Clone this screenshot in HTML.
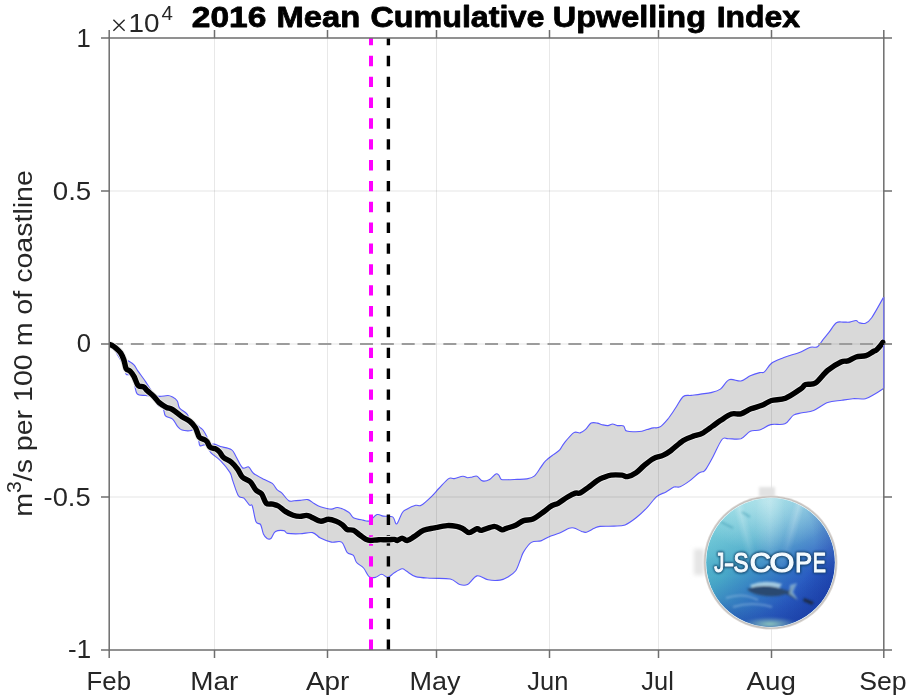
<!DOCTYPE html><html><head><meta charset="utf-8"><style>html,body{margin:0;padding:0;background:#fff;}svg{display:block;will-change:transform;}</style></head><body>
<svg width="911" height="700" viewBox="0 0 911 700">
<rect x="0" y="0" width="911" height="700" fill="#fff"/>
<defs><clipPath id="ax"><rect x="109.2" y="38" width="774.6" height="612"/></clipPath></defs>
<g clip-path="url(#ax)">
<path d="M109.5,343.5 C112.2,346.2 122.2,357.1 125.4,360.0 C128.6,362.9 127.2,360.2 128.6,361.0 C130.0,361.8 132.4,363.2 134.0,364.9 C135.6,366.6 136.0,368.2 138.0,371.1 C140.0,374.0 143.6,378.7 145.9,382.1 C148.2,385.5 150.0,389.2 152.1,391.6 C154.2,394.0 155.8,395.7 158.4,396.3 C161.0,396.9 165.5,395.4 167.9,395.5 C170.3,395.6 171.0,396.2 172.6,397.1 C174.2,398.0 176.1,399.2 177.3,401.0 C178.5,402.8 178.0,406.0 179.6,408.1 C181.2,410.2 184.9,411.6 186.7,413.6 C188.5,415.6 188.5,417.7 190.6,419.9 C192.7,422.1 197.2,425.2 199.3,426.9 C201.4,428.6 201.7,428.3 203.0,430.0 C204.3,431.7 205.9,434.6 207.0,437.0 C208.1,439.4 208.2,442.9 209.4,444.1 C210.6,445.3 212.3,443.7 214.1,444.1 C215.9,444.5 217.5,445.6 220.4,446.5 C223.3,447.4 228.8,447.9 231.4,449.6 C234.0,451.3 234.3,453.7 236.1,456.7 C237.9,459.7 240.3,466.0 242.4,467.7 C244.5,469.4 246.9,466.0 248.7,466.9 C250.5,467.8 250.8,471.1 253.4,473.2 C256.0,475.3 261.2,477.8 264.4,479.5 C267.5,481.2 270.2,481.7 272.3,483.4 C274.4,485.1 275.4,488.1 277.0,489.7 C278.6,491.3 279.7,491.1 281.7,492.9 C283.7,494.7 286.7,499.4 288.8,500.7 C290.9,502.0 292.4,500.8 294.3,500.7 C296.2,500.6 297.7,500.6 300.0,500.4 C302.3,500.2 305.5,499.1 307.9,499.6 C310.2,500.1 312.0,502.4 314.1,503.6 C316.2,504.8 317.5,505.8 320.4,506.7 C323.3,507.6 328.5,509.0 331.4,509.1 C334.3,509.2 334.8,507.0 337.7,507.5 C340.6,508.0 346.1,510.5 348.7,512.2 C351.3,513.9 351.0,516.4 353.4,517.7 C355.8,519.0 360.3,519.6 362.9,520.1 C365.5,520.6 366.8,521.8 369.1,520.9 C371.5,520.0 374.6,515.4 377.0,514.6 C379.4,513.8 380.7,515.7 383.3,516.1 C385.9,516.5 390.5,515.6 392.7,516.9 C394.9,518.2 395.0,524.6 396.6,524.0 C398.2,523.4 400.5,515.4 402.1,513.0 C403.7,510.6 404.0,510.8 406.3,509.5 C408.6,508.2 413.2,506.0 415.7,505.3 C418.2,504.6 418.6,506.8 421.2,505.3 C423.8,503.9 428.4,499.5 431.4,496.6 C434.4,493.7 436.4,491.0 439.3,488.0 C442.2,485.0 446.2,480.2 448.7,478.6 C451.2,477.0 451.8,479.0 454.2,478.6 C456.6,478.2 460.7,476.3 462.9,476.2 C465.1,476.1 466.0,477.7 467.6,477.8 C469.2,477.9 470.7,477.3 472.3,477.0 C473.9,476.7 475.3,475.6 477.0,476.2 C478.7,476.8 480.4,480.4 482.5,480.9 C484.6,481.4 487.4,480.6 489.6,479.4 C491.8,478.2 494.3,474.6 495.9,473.9 C497.5,473.2 498.1,474.5 499.0,475.4 C499.9,476.3 499.9,478.7 501.4,479.4 C502.9,480.1 505.2,479.7 507.9,479.7 C510.5,479.7 514.2,479.5 517.3,479.4 C520.4,479.3 523.8,479.5 526.7,478.9 C529.6,478.3 532.2,477.8 534.6,475.8 C537.0,473.8 539.1,469.6 540.9,467.1 C542.7,464.6 543.5,463.0 545.6,460.9 C547.7,458.8 551.0,456.4 553.4,454.6 C555.8,452.8 557.9,451.9 559.7,449.9 C561.5,447.9 562.0,445.7 564.4,442.8 C566.8,439.9 571.3,434.2 573.9,432.6 C576.5,431.0 578.1,433.4 580.1,432.9 C582.1,432.4 583.8,431.0 585.6,429.4 C587.4,427.8 589.1,424.2 591.1,423.1 C593.1,422.1 595.6,422.8 597.4,423.1 C599.2,423.4 600.4,424.3 602.1,424.7 C603.9,425.1 606.1,425.7 607.9,425.6 C609.6,425.5 611.0,424.0 612.6,424.0 C614.2,424.0 615.5,425.3 617.3,425.6 C619.1,425.9 622.0,425.0 623.6,425.9 C625.2,426.8 624.1,430.2 626.7,431.1 C629.3,432.0 635.9,431.8 639.3,431.5 C642.7,431.2 644.8,430.1 647.1,429.5 C649.5,428.9 651.3,428.3 653.4,427.9 C655.5,427.5 657.3,428.5 659.7,427.1 C662.1,425.7 665.0,422.4 667.6,419.3 C670.2,416.2 672.8,412.1 675.4,408.3 C678.0,404.5 680.7,398.6 683.3,396.5 C685.9,394.4 688.2,395.8 691.1,395.4 C694.0,395.0 697.3,394.6 700.6,394.1 C703.9,393.6 707.7,393.4 711.0,392.6 C714.3,391.8 717.4,391.2 720.4,389.1 C723.4,387.0 725.7,381.1 729.1,379.7 C732.5,378.3 737.4,381.6 740.9,381.0 C744.4,380.4 747.2,377.2 750.3,375.8 C753.4,374.4 757.4,373.2 759.7,372.6 C762.1,372.0 762.4,373.5 764.4,371.9 C766.4,370.3 768.4,365.6 771.5,363.2 C774.6,360.8 780.2,359.0 783.3,357.7 C786.4,356.4 787.3,356.4 790.0,355.5 C792.7,354.6 796.0,353.9 799.4,352.5 C802.8,351.1 807.4,348.2 810.4,347.3 C813.4,346.4 815.4,348.1 817.5,346.8 C819.6,345.5 821.0,342.2 823.0,339.7 C825.0,337.2 827.1,334.7 829.3,331.9 C831.5,329.1 834.0,324.3 836.4,322.7 C838.8,321.1 841.2,322.2 843.4,322.1 C845.6,322.0 847.6,322.4 849.7,322.1 C851.8,321.8 854.4,320.4 856.0,320.5 C857.6,320.6 857.5,322.2 859.1,322.7 C860.7,323.1 863.3,324.0 865.4,323.2 C867.5,322.4 868.7,322.0 871.7,317.7 C874.7,313.4 881.5,300.9 883.5,297.3 C885.5,293.7 883.9,296.2 884.0,296.0 L884.0,388.0 C883.9,388.1 885.0,387.5 883.5,388.5 C882.0,389.5 877.9,392.3 874.9,394.0 C871.9,395.7 869.1,397.9 865.4,398.7 C861.7,399.5 856.8,398.4 852.9,398.7 C849.0,399.0 846.1,399.6 841.9,400.3 C837.7,401.0 832.4,400.9 827.7,402.6 C823.0,404.3 817.9,408.8 813.6,410.5 C809.3,412.2 805.5,412.0 802.1,412.8 C798.8,413.6 796.4,413.3 793.5,415.1 C790.6,416.9 788.7,422.2 784.9,423.8 C781.1,425.4 774.9,423.6 770.7,424.6 C766.5,425.7 763.1,429.0 759.7,430.1 C756.3,431.2 753.4,429.8 750.3,431.2 C747.2,432.6 744.6,437.4 740.9,438.7 C737.2,439.9 731.4,438.6 728.3,438.7 C725.1,438.8 724.6,436.4 722.0,439.5 C719.4,442.6 715.2,452.8 712.6,457.6 C710.0,462.5 707.8,466.3 706.3,468.6 C704.8,470.9 704.9,470.7 703.7,471.4 C702.5,472.1 701.4,471.4 699.0,473.0 C696.6,474.6 692.8,478.6 689.6,480.9 C686.5,483.2 682.7,485.8 680.1,486.8 C677.5,487.8 676.2,486.2 673.9,487.1 C671.5,488.0 668.9,490.3 666.0,491.9 C663.1,493.5 659.8,494.0 656.6,496.6 C653.5,499.2 650.5,504.1 647.1,507.6 C643.7,511.1 639.8,514.9 636.1,517.8 C632.4,520.7 628.8,523.5 625.1,524.9 C621.4,526.3 618.3,525.9 614.1,526.1 C609.9,526.4 603.3,526.0 600.0,526.4 C596.7,526.8 596.6,527.3 594.3,528.3 C592.0,529.3 588.5,531.7 586.4,532.2 C584.3,532.7 583.8,532.1 581.7,531.4 C579.6,530.7 576.0,528.5 573.9,528.0 C571.8,527.5 571.5,527.5 569.1,528.3 C566.7,529.1 563.1,531.6 559.7,533.0 C556.3,534.4 551.8,535.6 548.7,536.9 C545.6,538.2 543.8,540.0 540.9,540.9 C538.0,541.8 534.3,540.6 531.4,542.4 C528.5,544.2 525.4,549.0 523.6,551.9 C521.8,554.8 521.7,556.6 520.4,559.7 C519.1,562.8 517.8,567.8 515.7,570.7 C513.6,573.6 510.5,575.4 507.9,577.0 C505.3,578.6 503.3,579.6 500.0,580.1 C496.7,580.6 491.8,580.5 488.0,579.8 C484.2,579.1 480.4,575.1 477.0,575.9 C473.6,576.7 470.5,583.1 467.6,584.5 C464.7,585.9 462.6,585.4 459.7,584.5 C456.8,583.6 455.0,580.0 450.3,579.0 C445.6,578.0 437.2,578.6 431.4,578.2 C425.6,577.8 419.9,577.8 415.7,576.6 C411.5,575.4 408.6,572.4 406.3,571.1 C404.0,569.8 404.1,568.5 402.1,568.8 C400.1,569.1 396.7,571.3 394.3,572.7 C391.9,574.1 390.1,577.1 388.0,577.4 C385.9,577.7 383.8,574.3 381.7,574.3 C379.6,574.3 377.5,577.0 375.4,577.4 C373.3,577.8 371.1,578.2 369.1,576.6 C367.1,575.0 365.7,570.4 363.6,568.0 C361.5,565.6 358.3,564.6 356.6,562.5 C354.9,560.4 355.0,557.1 353.4,555.4 C351.8,553.7 349.1,554.5 347.1,552.3 C345.1,550.1 344.2,543.8 341.6,542.1 C339.0,540.4 334.9,542.8 331.4,542.1 C327.9,541.4 323.5,539.7 320.4,538.1 C317.3,536.5 316.0,533.3 312.6,532.6 C309.2,531.9 304.2,533.7 300.0,533.8 C295.8,533.9 290.3,533.9 287.6,533.4 C284.9,532.9 285.9,530.9 283.9,530.6 C281.9,530.3 277.7,530.2 275.5,531.5 C273.3,532.8 272.3,537.3 270.9,538.5 C269.5,539.7 268.4,539.3 267.1,538.5 C265.9,537.7 264.5,536.2 263.4,533.9 C262.3,531.6 261.8,526.6 260.6,524.6 C259.4,522.6 257.4,524.9 256.0,521.8 C254.6,518.7 253.4,508.8 252.3,506.0 C251.2,503.2 250.9,506.4 249.5,505.1 C248.1,503.8 245.8,499.7 243.9,498.1 C242.1,496.6 240.2,498.7 238.4,495.8 C236.6,492.9 234.2,484.8 232.8,480.9 C231.4,477.0 232.0,475.8 229.9,472.4 C227.8,469.0 223.6,463.9 220.4,460.6 C217.2,457.3 213.3,455.4 211.0,452.8 C208.7,450.2 208.1,446.1 206.3,444.9 C204.5,443.7 201.3,446.7 200.0,445.7 C198.7,444.7 199.2,441.4 198.5,438.7 C197.8,436.0 197.5,430.6 196.1,429.3 C194.7,428.0 192.2,430.7 189.9,430.8 C187.6,430.9 184.1,430.9 182.0,430.1 C179.9,429.3 178.9,427.9 177.3,426.1 C175.7,424.3 174.6,420.8 172.6,419.1 C170.6,417.4 167.1,417.7 165.5,415.9 C163.9,414.1 164.3,409.8 163.1,408.1 C161.9,406.4 160.2,407.5 158.4,405.7 C156.6,403.9 154.2,398.8 152.1,397.1 C150.0,395.4 148.4,396.0 145.9,395.5 C143.4,395.0 139.2,396.1 137.2,393.9 C135.2,391.7 135.1,385.2 134.1,382.1 C133.1,379.0 132.2,376.4 130.9,375.1 C129.6,373.8 127.2,375.5 126.2,374.3 C125.2,373.1 126.3,371.7 124.6,368.0 C122.9,364.3 118.3,355.8 116.0,352.3 C113.7,348.8 111.6,348.3 110.5,346.8 C109.4,345.3 109.7,344.1 109.5,343.5 Z" fill="#d9d9d9" stroke="#5a5aff" stroke-width="1.1" stroke-linejoin="round"/>
<line x1="214.5" y1="38" x2="214.5" y2="650" stroke="#000" stroke-opacity="0.09" stroke-width="1"/>
<line x1="327.5" y1="38" x2="327.5" y2="650" stroke="#000" stroke-opacity="0.09" stroke-width="1"/>
<line x1="436.5" y1="38" x2="436.5" y2="650" stroke="#000" stroke-opacity="0.09" stroke-width="1"/>
<line x1="549.5" y1="38" x2="549.5" y2="650" stroke="#000" stroke-opacity="0.09" stroke-width="1"/>
<line x1="658.5" y1="38" x2="658.5" y2="650" stroke="#000" stroke-opacity="0.09" stroke-width="1"/>
<line x1="771.5" y1="38" x2="771.5" y2="650" stroke="#000" stroke-opacity="0.09" stroke-width="1"/>
<line x1="109.2" y1="191" x2="883.8" y2="191" stroke="#000" stroke-opacity="0.07" stroke-width="1.3"/>
<line x1="109.2" y1="344" x2="883.8" y2="344" stroke="#000" stroke-opacity="0.07" stroke-width="1.3"/>
<line x1="109.2" y1="497" x2="883.8" y2="497" stroke="#000" stroke-opacity="0.07" stroke-width="1.3"/>
<line x1="109" y1="344" x2="884" y2="344" stroke="#9c9c9c" stroke-width="1.8" stroke-dasharray="13 7.835" stroke-dashoffset="-1"/>
<line x1="371" y1="650" x2="371" y2="38" stroke="#ff00ff" stroke-width="4" stroke-dasharray="10.4 10.45" stroke-dashoffset="0"/>
<line x1="388.4" y1="650" x2="388.4" y2="38" stroke="#000" stroke-width="3.4" stroke-dasharray="10.4 10.45" stroke-dashoffset="0"/>
<path d="M109.2,344.4 C109.7,344.6 110.9,344.8 112.0,345.4 C113.1,346.0 114.5,346.9 116.0,348.2 C117.5,349.5 119.4,351.0 120.7,353.0 C122.0,355.0 123.0,357.4 123.9,360.0 C124.8,362.6 125.2,366.9 126.2,368.8 C127.2,370.7 128.8,369.8 130.1,371.1 C131.4,372.4 132.8,374.2 134.1,376.6 C135.4,379.0 136.4,383.6 138.0,385.3 C139.6,387.0 141.9,386.0 143.5,386.9 C145.1,387.8 145.7,389.2 147.4,390.8 C149.1,392.4 151.7,394.3 153.7,396.3 C155.7,398.3 157.1,400.8 159.2,402.6 C161.3,404.4 164.1,406.1 166.3,407.3 C168.5,408.5 170.0,408.0 172.6,409.6 C175.2,411.2 179.1,414.7 182.0,416.7 C184.9,418.7 187.7,419.6 189.9,421.4 C192.1,423.2 193.8,425.1 195.4,427.7 C197.0,430.3 197.8,435.1 199.3,437.1 C200.9,439.1 203.4,438.9 204.7,439.7 C206.0,440.5 206.2,440.5 207.1,441.8 C208.0,443.1 208.8,446.1 210.2,447.3 C211.6,448.5 214.1,448.1 215.7,448.9 C217.3,449.7 218.3,450.6 219.6,452.0 C220.9,453.4 221.6,455.8 223.6,457.5 C225.6,459.2 229.1,460.2 231.4,462.2 C233.8,464.2 235.9,466.8 237.7,469.3 C239.5,471.8 240.3,475.0 242.4,477.1 C244.5,479.2 248.1,479.7 250.4,481.9 C252.7,484.1 254.1,488.2 256.0,490.2 C257.9,492.2 259.9,491.7 261.6,493.9 C263.3,496.1 264.4,501.5 266.2,503.2 C268.0,504.9 270.7,503.6 272.7,504.1 C274.7,504.6 276.1,504.8 278.3,506.0 C280.5,507.2 283.2,510.1 285.7,511.6 C288.2,513.1 290.7,514.5 293.1,515.3 C295.5,516.1 297.8,516.4 300.0,516.4 C302.2,516.4 304.5,515.3 306.3,515.4 C308.1,515.5 308.6,515.9 311.0,516.9 C313.4,517.9 317.5,520.8 320.4,521.2 C323.3,521.6 325.7,519.3 328.3,519.3 C330.9,519.3 333.8,520.3 336.1,521.2 C338.5,522.1 340.6,523.4 342.4,524.8 C344.2,526.2 345.3,528.6 347.1,529.5 C348.9,530.4 351.3,529.4 353.4,530.3 C355.5,531.2 357.6,533.5 359.7,535.0 C361.8,536.5 364.2,538.5 366.0,539.4 C367.8,540.3 368.6,540.5 370.7,540.5 C372.8,540.5 375.7,539.8 378.6,539.7 C381.5,539.6 385.4,539.8 388.0,539.7 C390.6,539.7 392.7,539.3 394.3,539.4 C395.9,539.5 396.1,540.7 397.4,540.5 C398.7,540.3 400.5,538.1 402.1,538.1 C403.7,538.1 405.1,540.8 407.1,540.5 C409.1,540.2 411.4,538.3 414.1,536.6 C416.9,534.9 420.2,531.8 423.6,530.3 C427.0,528.8 430.7,528.7 434.6,527.9 C438.5,527.1 443.4,525.9 447.1,525.6 C450.8,525.4 454.0,525.9 456.6,526.4 C459.2,526.9 460.8,527.7 462.9,528.7 C465.0,529.7 466.8,532.6 469.1,532.6 C471.5,532.6 474.9,529.1 477.0,528.7 C479.1,528.3 478.8,530.7 481.7,530.3 C484.6,529.9 490.9,526.5 494.3,526.4 C497.7,526.3 500.1,529.5 502.1,529.8 C504.1,530.1 504.0,529.1 506.3,528.4 C508.6,527.6 512.8,526.6 515.7,525.3 C518.6,524.0 520.7,521.6 523.6,520.6 C526.5,519.6 529.9,520.3 533.0,519.0 C536.1,517.7 539.2,514.9 542.4,512.7 C545.5,510.5 549.3,507.2 551.9,505.6 C554.5,504.0 555.5,504.7 558.1,503.3 C560.7,501.9 564.7,498.7 567.6,497.0 C570.5,495.3 573.3,493.8 575.4,493.1 C577.5,492.5 578.0,494.0 580.1,493.1 C582.2,492.2 585.1,489.7 588.0,487.6 C590.9,485.5 594.8,482.2 597.4,480.5 C600.0,478.8 601.4,478.3 603.7,477.4 C606.0,476.5 608.0,475.5 611.0,475.1 C614.0,474.7 619.2,474.9 622.0,475.1 C624.8,475.4 625.1,477.0 627.5,476.6 C629.9,476.2 633.4,474.5 636.1,472.7 C638.9,470.9 641.1,468.0 644.0,465.6 C646.9,463.2 650.2,460.3 653.4,458.6 C656.5,456.9 660.0,456.7 662.9,455.4 C665.8,454.1 667.3,453.2 670.7,450.7 C674.1,448.2 679.4,443.0 683.3,440.5 C687.2,438.0 691.2,437.0 694.3,435.8 C697.4,434.6 699.0,435.0 702.1,433.4 C705.2,431.8 709.6,428.2 712.6,426.1 C715.6,424.0 717.3,422.6 720.4,420.6 C723.5,418.6 728.0,415.1 731.4,414.0 C734.8,412.9 737.6,414.7 740.9,413.8 C744.2,412.9 747.5,410.2 751.0,408.8 C754.5,407.4 758.6,406.7 762.0,405.3 C765.4,403.9 767.6,401.7 771.5,400.5 C775.4,399.3 780.6,400.1 785.5,398.2 C790.4,396.3 797.2,391.3 800.6,389.0 C804.0,386.7 803.2,385.5 805.7,384.5 C808.2,383.5 811.8,385.4 815.5,383.0 C819.2,380.6 823.5,373.9 827.7,370.4 C832.0,366.9 837.6,363.6 841.0,362.0 C844.4,360.4 845.6,361.7 848.1,360.9 C850.6,360.1 853.0,357.9 856.0,357.0 C859.0,356.1 863.1,356.5 866.0,355.6 C868.9,354.7 871.6,352.4 873.3,351.5 C875.0,350.6 874.8,351.4 876.4,350.0 C878.0,348.6 881.4,344.3 882.7,343.0 C884.0,341.7 883.8,342.2 884.0,342.0" fill="none" stroke="#ebebeb" stroke-width="7.2" stroke-linejoin="round" stroke-linecap="round"/>
<path d="M109.2,344.4 C109.7,344.6 110.9,344.8 112.0,345.4 C113.1,346.0 114.5,346.9 116.0,348.2 C117.5,349.5 119.4,351.0 120.7,353.0 C122.0,355.0 123.0,357.4 123.9,360.0 C124.8,362.6 125.2,366.9 126.2,368.8 C127.2,370.7 128.8,369.8 130.1,371.1 C131.4,372.4 132.8,374.2 134.1,376.6 C135.4,379.0 136.4,383.6 138.0,385.3 C139.6,387.0 141.9,386.0 143.5,386.9 C145.1,387.8 145.7,389.2 147.4,390.8 C149.1,392.4 151.7,394.3 153.7,396.3 C155.7,398.3 157.1,400.8 159.2,402.6 C161.3,404.4 164.1,406.1 166.3,407.3 C168.5,408.5 170.0,408.0 172.6,409.6 C175.2,411.2 179.1,414.7 182.0,416.7 C184.9,418.7 187.7,419.6 189.9,421.4 C192.1,423.2 193.8,425.1 195.4,427.7 C197.0,430.3 197.8,435.1 199.3,437.1 C200.9,439.1 203.4,438.9 204.7,439.7 C206.0,440.5 206.2,440.5 207.1,441.8 C208.0,443.1 208.8,446.1 210.2,447.3 C211.6,448.5 214.1,448.1 215.7,448.9 C217.3,449.7 218.3,450.6 219.6,452.0 C220.9,453.4 221.6,455.8 223.6,457.5 C225.6,459.2 229.1,460.2 231.4,462.2 C233.8,464.2 235.9,466.8 237.7,469.3 C239.5,471.8 240.3,475.0 242.4,477.1 C244.5,479.2 248.1,479.7 250.4,481.9 C252.7,484.1 254.1,488.2 256.0,490.2 C257.9,492.2 259.9,491.7 261.6,493.9 C263.3,496.1 264.4,501.5 266.2,503.2 C268.0,504.9 270.7,503.6 272.7,504.1 C274.7,504.6 276.1,504.8 278.3,506.0 C280.5,507.2 283.2,510.1 285.7,511.6 C288.2,513.1 290.7,514.5 293.1,515.3 C295.5,516.1 297.8,516.4 300.0,516.4 C302.2,516.4 304.5,515.3 306.3,515.4 C308.1,515.5 308.6,515.9 311.0,516.9 C313.4,517.9 317.5,520.8 320.4,521.2 C323.3,521.6 325.7,519.3 328.3,519.3 C330.9,519.3 333.8,520.3 336.1,521.2 C338.5,522.1 340.6,523.4 342.4,524.8 C344.2,526.2 345.3,528.6 347.1,529.5 C348.9,530.4 351.3,529.4 353.4,530.3 C355.5,531.2 357.6,533.5 359.7,535.0 C361.8,536.5 364.2,538.5 366.0,539.4 C367.8,540.3 368.6,540.5 370.7,540.5 C372.8,540.5 375.7,539.8 378.6,539.7 C381.5,539.6 385.4,539.8 388.0,539.7 C390.6,539.7 392.7,539.3 394.3,539.4 C395.9,539.5 396.1,540.7 397.4,540.5 C398.7,540.3 400.5,538.1 402.1,538.1 C403.7,538.1 405.1,540.8 407.1,540.5 C409.1,540.2 411.4,538.3 414.1,536.6 C416.9,534.9 420.2,531.8 423.6,530.3 C427.0,528.8 430.7,528.7 434.6,527.9 C438.5,527.1 443.4,525.9 447.1,525.6 C450.8,525.4 454.0,525.9 456.6,526.4 C459.2,526.9 460.8,527.7 462.9,528.7 C465.0,529.7 466.8,532.6 469.1,532.6 C471.5,532.6 474.9,529.1 477.0,528.7 C479.1,528.3 478.8,530.7 481.7,530.3 C484.6,529.9 490.9,526.5 494.3,526.4 C497.7,526.3 500.1,529.5 502.1,529.8 C504.1,530.1 504.0,529.1 506.3,528.4 C508.6,527.6 512.8,526.6 515.7,525.3 C518.6,524.0 520.7,521.6 523.6,520.6 C526.5,519.6 529.9,520.3 533.0,519.0 C536.1,517.7 539.2,514.9 542.4,512.7 C545.5,510.5 549.3,507.2 551.9,505.6 C554.5,504.0 555.5,504.7 558.1,503.3 C560.7,501.9 564.7,498.7 567.6,497.0 C570.5,495.3 573.3,493.8 575.4,493.1 C577.5,492.5 578.0,494.0 580.1,493.1 C582.2,492.2 585.1,489.7 588.0,487.6 C590.9,485.5 594.8,482.2 597.4,480.5 C600.0,478.8 601.4,478.3 603.7,477.4 C606.0,476.5 608.0,475.5 611.0,475.1 C614.0,474.7 619.2,474.9 622.0,475.1 C624.8,475.4 625.1,477.0 627.5,476.6 C629.9,476.2 633.4,474.5 636.1,472.7 C638.9,470.9 641.1,468.0 644.0,465.6 C646.9,463.2 650.2,460.3 653.4,458.6 C656.5,456.9 660.0,456.7 662.9,455.4 C665.8,454.1 667.3,453.2 670.7,450.7 C674.1,448.2 679.4,443.0 683.3,440.5 C687.2,438.0 691.2,437.0 694.3,435.8 C697.4,434.6 699.0,435.0 702.1,433.4 C705.2,431.8 709.6,428.2 712.6,426.1 C715.6,424.0 717.3,422.6 720.4,420.6 C723.5,418.6 728.0,415.1 731.4,414.0 C734.8,412.9 737.6,414.7 740.9,413.8 C744.2,412.9 747.5,410.2 751.0,408.8 C754.5,407.4 758.6,406.7 762.0,405.3 C765.4,403.9 767.6,401.7 771.5,400.5 C775.4,399.3 780.6,400.1 785.5,398.2 C790.4,396.3 797.2,391.3 800.6,389.0 C804.0,386.7 803.2,385.5 805.7,384.5 C808.2,383.5 811.8,385.4 815.5,383.0 C819.2,380.6 823.5,373.9 827.7,370.4 C832.0,366.9 837.6,363.6 841.0,362.0 C844.4,360.4 845.6,361.7 848.1,360.9 C850.6,360.1 853.0,357.9 856.0,357.0 C859.0,356.1 863.1,356.5 866.0,355.6 C868.9,354.7 871.6,352.4 873.3,351.5 C875.0,350.6 874.8,351.4 876.4,350.0 C878.0,348.6 881.4,344.3 882.7,343.0 C884.0,341.7 883.8,342.2 884.0,342.0" fill="none" stroke="#000" stroke-width="5.4" stroke-linejoin="round" stroke-linecap="round"/>
</g>
<rect x="109.2" y="38.0" width="774.6" height="612.0" fill="none" stroke="#6e6e6e" stroke-width="1.5"/>
<line x1="883.7" y1="297" x2="883.7" y2="388.5" stroke="#7474e6" stroke-width="1.4"/><circle cx="882.9" cy="342.4" r="2.6" fill="#000"/>
<line x1="109.2" y1="650.0" x2="109.2" y2="658" stroke="#6e6e6e" stroke-width="1.5"/>
<line x1="109.2" y1="38.0" x2="109.2" y2="30" stroke="#6e6e6e" stroke-width="1.5"/>
<line x1="214.5" y1="650.0" x2="214.5" y2="658" stroke="#6e6e6e" stroke-width="1.5"/>
<line x1="214.5" y1="38.0" x2="214.5" y2="30" stroke="#6e6e6e" stroke-width="1.5"/>
<line x1="327.5" y1="650.0" x2="327.5" y2="658" stroke="#6e6e6e" stroke-width="1.5"/>
<line x1="327.5" y1="38.0" x2="327.5" y2="30" stroke="#6e6e6e" stroke-width="1.5"/>
<line x1="436.5" y1="650.0" x2="436.5" y2="658" stroke="#6e6e6e" stroke-width="1.5"/>
<line x1="436.5" y1="38.0" x2="436.5" y2="30" stroke="#6e6e6e" stroke-width="1.5"/>
<line x1="549.5" y1="650.0" x2="549.5" y2="658" stroke="#6e6e6e" stroke-width="1.5"/>
<line x1="549.5" y1="38.0" x2="549.5" y2="30" stroke="#6e6e6e" stroke-width="1.5"/>
<line x1="658.5" y1="650.0" x2="658.5" y2="658" stroke="#6e6e6e" stroke-width="1.5"/>
<line x1="658.5" y1="38.0" x2="658.5" y2="30" stroke="#6e6e6e" stroke-width="1.5"/>
<line x1="771.5" y1="650.0" x2="771.5" y2="658" stroke="#6e6e6e" stroke-width="1.5"/>
<line x1="771.5" y1="38.0" x2="771.5" y2="30" stroke="#6e6e6e" stroke-width="1.5"/>
<line x1="883.8" y1="650.0" x2="883.8" y2="658" stroke="#6e6e6e" stroke-width="1.5"/>
<line x1="883.8" y1="38.0" x2="883.8" y2="30" stroke="#6e6e6e" stroke-width="1.5"/>
<line x1="101" y1="38" x2="109.2" y2="38" stroke="#6e6e6e" stroke-width="1.5"/>
<line x1="883.8" y1="38" x2="892" y2="38" stroke="#6e6e6e" stroke-width="1.5"/>
<line x1="101" y1="191" x2="109.2" y2="191" stroke="#6e6e6e" stroke-width="1.5"/>
<line x1="883.8" y1="191" x2="892" y2="191" stroke="#6e6e6e" stroke-width="1.5"/>
<line x1="101" y1="344" x2="109.2" y2="344" stroke="#6e6e6e" stroke-width="1.5"/>
<line x1="883.8" y1="344" x2="892" y2="344" stroke="#6e6e6e" stroke-width="1.5"/>
<line x1="101" y1="497" x2="109.2" y2="497" stroke="#6e6e6e" stroke-width="1.5"/>
<line x1="883.8" y1="497" x2="892" y2="497" stroke="#6e6e6e" stroke-width="1.5"/>
<line x1="101" y1="650" x2="109.2" y2="650" stroke="#6e6e6e" stroke-width="1.5"/>
<line x1="883.8" y1="650" x2="892" y2="650" stroke="#6e6e6e" stroke-width="1.5"/>
<g transform="translate(86.62,689.6) scale(0.9905,1)"><text x="0" y="0" font-family='"Liberation Sans", sans-serif' font-weight="normal" font-size="26" fill="#262626">Feb</text></g>
<g transform="translate(190.35,689.6) scale(1.0738,1)"><text x="0" y="0" font-family='"Liberation Sans", sans-serif' font-weight="normal" font-size="26" fill="#262626">Mar</text></g>
<g transform="translate(305.90,689.6) scale(1.0725,1)"><text x="0" y="0" font-family='"Liberation Sans", sans-serif' font-weight="normal" font-size="26" fill="#262626">Apr</text></g>
<g transform="translate(409.52,689.6) scale(1.0383,1)"><text x="0" y="0" font-family='"Liberation Sans", sans-serif' font-weight="normal" font-size="26" fill="#262626">May</text></g>
<g transform="translate(527.32,689.6) scale(0.9795,1)"><text x="0" y="0" font-family='"Liberation Sans", sans-serif' font-weight="normal" font-size="26" fill="#262626">Jun</text></g>
<g transform="translate(641.32,689.6) scale(0.9774,1)"><text x="0" y="0" font-family='"Liberation Sans", sans-serif' font-weight="normal" font-size="26" fill="#262626">Jul</text></g>
<g transform="translate(746.60,689.6) scale(1.0659,1)"><text x="0" y="0" font-family='"Liberation Sans", sans-serif' font-weight="normal" font-size="26" fill="#262626">Aug</text></g>
<g transform="translate(859.25,689.6) scale(1.0256,1)"><text x="0" y="0" font-family='"Liberation Sans", sans-serif' font-weight="normal" font-size="26" fill="#262626">Sep</text></g>
<g transform="translate(76.47,46.9) scale(0.9667,1)"><text x="0" y="0" font-family='"Liberation Sans", sans-serif' font-weight="normal" font-size="26.5" fill="#262626">1</text></g>
<g transform="translate(52.75,199.6) scale(1.0457,1)"><text x="0" y="0" font-family='"Liberation Sans", sans-serif' font-weight="normal" font-size="26.5" fill="#262626">0.5</text></g>
<g transform="translate(76.63,352.4) scale(0.9692,1)"><text x="0" y="0" font-family='"Liberation Sans", sans-serif' font-weight="normal" font-size="26.5" fill="#262626">0</text></g>
<g transform="translate(43.57,505.7) scale(1.0318,1)"><text x="0" y="0" font-family='"Liberation Sans", sans-serif' font-weight="normal" font-size="26.5" fill="#262626">-0.5</text></g>
<g transform="translate(68.12,658.1) scale(0.9773,1)"><text x="0" y="0" font-family='"Liberation Sans", sans-serif' font-weight="normal" font-size="26.5" fill="#262626">-1</text></g>
<path d="M113.4,19.8 L124.6,30.8 M124.6,19.8 L113.4,30.8" stroke="#262626" stroke-width="1.4" fill="none"/>
<text x="128.6" y="31.6" font-family='"Liberation Sans", sans-serif' font-size="25.5" fill="#262626" textLength="31" lengthAdjust="spacingAndGlyphs">10</text>
<text x="161.4" y="20.2" font-family='"Liberation Sans", sans-serif' font-size="20.5" fill="#262626">4</text>
<g transform="translate(32.2,343.5) rotate(-90) scale(1.082,1)"><text x="0" y="0" font-family='"Liberation Sans", sans-serif' font-size="26.4" fill="#262626" text-anchor="middle">m<tspan dy="-11.7" font-size="19.5">3</tspan><tspan dy="11.7">/s per 100 m of coastline</tspan></text></g>
<g transform="translate(191.76,26.7) scale(1.1359,1)"><text x="0" y="0" font-family='"Liberation Sans", sans-serif' font-weight="bold" font-size="29.5" fill="#000" stroke="#000" stroke-width="0.8" stroke-linejoin="round">2016</text></g>
<g transform="translate(276.58,26.7) scale(1.1097,1)"><text x="0" y="0" font-family='"Liberation Sans", sans-serif' font-weight="bold" font-size="29.5" fill="#000" stroke="#000" stroke-width="0.8" stroke-linejoin="round">Mean</text></g>
<g transform="translate(370.41,26.7) scale(1.0949,1)"><text x="0" y="0" font-family='"Liberation Sans", sans-serif' font-weight="bold" font-size="29.5" fill="#000" stroke="#000" stroke-width="0.8" stroke-linejoin="round">Cumulative</text></g>
<g transform="translate(552.70,26.7) scale(1.1007,1)"><text x="0" y="0" font-family='"Liberation Sans", sans-serif' font-weight="bold" font-size="29.5" fill="#000" stroke="#000" stroke-width="0.8" stroke-linejoin="round">Upwelling</text></g>
<g transform="translate(716.63,26.7) scale(1.0827,1)"><text x="0" y="0" font-family='"Liberation Sans", sans-serif' font-weight="bold" font-size="29.5" fill="#000" stroke="#000" stroke-width="0.8" stroke-linejoin="round">Index</text></g>
<defs>
<linearGradient id="lg" x1="0.1" y1="0.15" x2="0.9" y2="0.8">
<stop offset="0" stop-color="#5cbed0"/>
<stop offset="0.3" stop-color="#48a8c8"/>
<stop offset="0.55" stop-color="#3680c4"/>
<stop offset="0.8" stop-color="#2a5cc2"/>
<stop offset="1" stop-color="#1e46b2"/>
</linearGradient>
<linearGradient id="vt" x1="0" y1="0" x2="0" y2="1">
<stop offset="0" stop-color="#b8ecf0" stop-opacity="0.55"/>
<stop offset="0.45" stop-color="#b8ecf0" stop-opacity="0.1"/>
<stop offset="0.6" stop-color="#1e4aa8" stop-opacity="0"/>
<stop offset="1" stop-color="#1e4aa8" stop-opacity="0.35"/>
</linearGradient>
<radialGradient id="hl" cx="0.45" cy="0.05" r="0.55">
<stop offset="0" stop-color="#e6fafa" stop-opacity="0.4"/>
<stop offset="1" stop-color="#e6fafa" stop-opacity="0"/>
</radialGradient>
<linearGradient id="ray" x1="0" y1="0" x2="1" y2="0">
<stop offset="0" stop-color="#ffffff" stop-opacity="0"/>
<stop offset="0.5" stop-color="#ffffff" stop-opacity="0.3"/>
<stop offset="1" stop-color="#ffffff" stop-opacity="0"/>
</linearGradient>
<linearGradient id="rayv" x1="0" y1="0" x2="0" y2="1">
<stop offset="0" stop-color="#ffffff" stop-opacity="1"/>
<stop offset="1" stop-color="#ffffff" stop-opacity="0"/>
</linearGradient>
<mask id="raymask"><rect x="690" y="490" width="160" height="90" fill="url(#rayv)"/></mask>
<radialGradient id="glow" cx="0.5" cy="0.5" r="0.5">
<stop offset="0" stop-color="#a0dcc0" stop-opacity="0.85"/>
<stop offset="1" stop-color="#a0dcc0" stop-opacity="0"/>
</radialGradient>
<radialGradient id="dk" cx="0.35" cy="0.35" r="0.7">
<stop offset="0.7" stop-color="#1a3aa0" stop-opacity="0"/>
<stop offset="1" stop-color="#1a3aa0" stop-opacity="0.4"/>
</radialGradient>
<clipPath id="cc"><circle cx="770.5" cy="562.5" r="64.4"/></clipPath>
<filter id="bl" x="-20%" y="-20%" width="140%" height="140%"><feGaussianBlur stdDeviation="1.1"/></filter>
<filter id="bl3" x="-100%" y="-50%" width="300%" height="200%"><feGaussianBlur stdDeviation="2.2"/></filter>
<filter id="bl2" x="-50%" y="-50%" width="200%" height="200%"><feGaussianBlur stdDeviation="1.6"/></filter>
</defs>
<rect x="759" y="487" width="16" height="10" fill="#e2e2e2" filter="url(#bl2)"/>
<rect x="694" y="549" width="10" height="26" fill="#e4e4e4" filter="url(#bl3)"/>
<circle cx="770.5" cy="562.5" r="67" fill="#ddd9d6"/>
<circle cx="770.5" cy="562.5" r="66.2" fill="#c4c0bd"/>
<circle cx="770.5" cy="562.5" r="64.9" fill="#eaf8fc"/>
<g clip-path="url(#cc)">
<circle cx="770.5" cy="562.5" r="64.4" fill="url(#lg)"/>
<rect x="705" y="497" width="132" height="132" fill="url(#vt)"/>
<circle cx="770.5" cy="562.5" r="64.4" fill="url(#dk)"/>
<rect x="705" y="497" width="132" height="90" fill="url(#hl)"/>
<g mask="url(#raymask)">
<rect x="755" y="495" width="30" height="85" fill="url(#ray)"/>
<rect x="730" y="495" width="12" height="75" fill="url(#ray)" transform="rotate(-14 736 495)"/>
<rect x="796" y="495" width="12" height="75" fill="url(#ray)" transform="rotate(16 802 495)"/>
</g>
<g filter="url(#bl)">
<path d="M721,522 L733,528 M742,512 L750,517" stroke="#2a8aa4" stroke-width="1.8" opacity="0.45"/>
<ellipse cx="770" cy="624" rx="28" ry="7" fill="url(#glow)"/>
<path d="M750,585 Q765,579 782,584 L779,588 Q765,585 752,588 Z" fill="#c0e0ea" opacity="0.8"/>
<path d="M747,589 Q760,584 775,587 Q783,589 788,591 L795,584 L791,592 L797,600 L786,594 Q775,598 760,595 Q750,593 747,589 Z" fill="#2a4870"/>
<path d="M790,585 L797,583 L793,592 L798,600 L789,594 Z" fill="#a8d0e0" opacity="0.6"/>
<path d="M804,598 L814,602 L812,605 L803,601 Z" fill="#1c2c48"/>
<path d="M726,598 Q743,592 758,600 M733,607 Q752,601 772,607" stroke="#9cc4e4" stroke-width="2" fill="none" opacity="0.45"/>
</g>
</g>

<g opacity="0.9" filter="url(#bl)"><g transform="translate(714.26,571.5) scale(0.7400,1)"><text x="0" y="0" font-family='"Liberation Sans", sans-serif' font-size="27.2" fill="#0e3a60" stroke="#0e3a60" stroke-width="3.2" stroke-linejoin="round">J</text></g><g transform="translate(724.09,571.5) scale(1.1143,1)"><text x="0" y="0" font-family='"Liberation Sans", sans-serif' font-size="27.2" fill="#0e3a60" stroke="#0e3a60" stroke-width="3.2" stroke-linejoin="round">-</text></g><g transform="translate(733.57,571.5) scale(0.8250,1)"><text x="0" y="0" font-family='"Liberation Sans", sans-serif' font-size="27.2" fill="#0e3a60" stroke="#0e3a60" stroke-width="3.2" stroke-linejoin="round">S</text></g><g transform="translate(749.82,571.5) scale(1.0824,1)"><text x="0" y="0" font-family='"Liberation Sans", sans-serif' font-size="27.2" fill="#0e3a60" stroke="#0e3a60" stroke-width="3.2" stroke-linejoin="round">C</text></g><g transform="translate(769.42,571.5) scale(1.1789,1)"><text x="0" y="0" font-family='"Liberation Sans", sans-serif' font-size="27.2" fill="#0e3a60" stroke="#0e3a60" stroke-width="3.2" stroke-linejoin="round">O</text></g><g transform="translate(795.11,571.5) scale(0.9429,1)"><text x="0" y="0" font-family='"Liberation Sans", sans-serif' font-size="27.2" fill="#0e3a60" stroke="#0e3a60" stroke-width="3.2" stroke-linejoin="round">P</text></g><g transform="translate(812.65,571.5) scale(0.7267,1)"><text x="0" y="0" font-family='"Liberation Sans", sans-serif' font-size="27.2" fill="#0e3a60" stroke="#0e3a60" stroke-width="3.2" stroke-linejoin="round">E</text></g></g>
<g><g transform="translate(714.26,571.5) scale(0.7400,1)"><text x="0" y="0" font-family='"Liberation Sans", sans-serif' font-size="27.2" fill="#f4fbff" stroke="#f4fbff" stroke-width="1.1" stroke-linejoin="round">J</text></g><g transform="translate(724.09,571.5) scale(1.1143,1)"><text x="0" y="0" font-family='"Liberation Sans", sans-serif' font-size="27.2" fill="#f4fbff" stroke="#f4fbff" stroke-width="1.1" stroke-linejoin="round">-</text></g><g transform="translate(733.57,571.5) scale(0.8250,1)"><text x="0" y="0" font-family='"Liberation Sans", sans-serif' font-size="27.2" fill="#f4fbff" stroke="#f4fbff" stroke-width="1.1" stroke-linejoin="round">S</text></g><g transform="translate(749.82,571.5) scale(1.0824,1)"><text x="0" y="0" font-family='"Liberation Sans", sans-serif' font-size="27.2" fill="#f4fbff" stroke="#f4fbff" stroke-width="1.1" stroke-linejoin="round">C</text></g><g transform="translate(769.42,571.5) scale(1.1789,1)"><text x="0" y="0" font-family='"Liberation Sans", sans-serif' font-size="27.2" fill="#f4fbff" stroke="#f4fbff" stroke-width="1.1" stroke-linejoin="round">O</text></g><g transform="translate(795.11,571.5) scale(0.9429,1)"><text x="0" y="0" font-family='"Liberation Sans", sans-serif' font-size="27.2" fill="#f4fbff" stroke="#f4fbff" stroke-width="1.1" stroke-linejoin="round">P</text></g><g transform="translate(812.65,571.5) scale(0.7267,1)"><text x="0" y="0" font-family='"Liberation Sans", sans-serif' font-size="27.2" fill="#f4fbff" stroke="#f4fbff" stroke-width="1.1" stroke-linejoin="round">E</text></g></g>
</svg></body></html>
